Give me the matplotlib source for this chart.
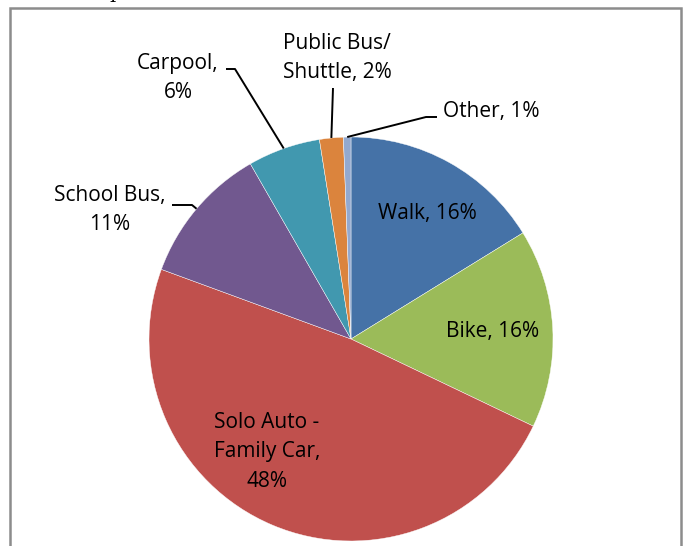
import numpy as np
import matplotlib.pyplot as plt
from matplotlib.patches import Rectangle

labels = ["Walk, 16%", "Bike, 16%", "Solo Auto -\nFamily Car,\n48%", "School Bus,\n11%",
          "Carpool,\n6%", "Public Bus/\nShuttle, 2%", "Other, 1%"]
values = [16.2, 15.9, 48.5, 11.1, 5.8, 1.9, 0.6]
colors = ["#4572A7", "#9BBB59", "#C0504D", "#71588F", "#4198AF", "#DB843D", "#93A9CF"]

plt.rcParams["font.family"] = ["Open Sans", "DejaVu Sans"]

fig = plt.figure(figsize=(6.87, 5.46), dpi=100)
ax = fig.add_axes([0, 0, 1, 1])

cx, cy, r = 351, 207, 202
wedges, _ = ax.pie(values, colors=colors, startangle=90, counterclock=False,
                   center=(cx, cy), radius=r, frame=True,
                   wedgeprops=dict(linewidth=0.3, edgecolor="white"))
ax.set_xlim(0, 687)
ax.set_ylim(0, 546)
ax.set_aspect("equal")
ax.axis("off")

fs = 15
ls = 1.55
# labels drawn inside the slices
inside = {0: (427, 332), 1: (493, 214), 2: (267, 94)}
for i, (x, y) in inside.items():
    ax.text(x, y, labels[i], ha="center", va="center", fontsize=fs, linespacing=ls)

# outside labels: text position, then elbow points of the leader line
outside = {
    3: ((110, 336), [(172, 341), (192, 341)]),
    4: ((178, 468), [(226, 477), (235, 477)]),
    5: ((337, 488), [(333, 458)]),
    6: ((491, 434), [(437, 429), (426, 429)]),
}
for i, ((tx, ty), pts) in outside.items():
    w = wedges[i]
    mid = np.deg2rad((w.theta1 + w.theta2) / 2)
    ex, ey = cx + r * np.cos(mid), cy + r * np.sin(mid)
    xs = [p[0] for p in pts] + [ex]
    ys = [p[1] for p in pts] + [ey]
    ax.plot(xs, ys, color="black", linewidth=1.4, solid_capstyle="butt")
    ax.text(tx, ty, labels[i], ha="center", va="center", fontsize=fs, linespacing=ls)

# chart border (bottom edge falls outside the picture)
fig.patches.append(Rectangle((10 / 687, -0.1), 671 / 687, 1.1 - 8 / 546, transform=fig.transFigure,
                             fill=False, edgecolor="#8c8c8c", linewidth=1.8))
# descender of the cropped heading text above the chart
fig.text(116 / 687, 1 + 2 / 546, "p", family="DejaVu Serif", fontsize=14, ha="center", va="baseline")

fig.savefig("out.png", dpi=100)
